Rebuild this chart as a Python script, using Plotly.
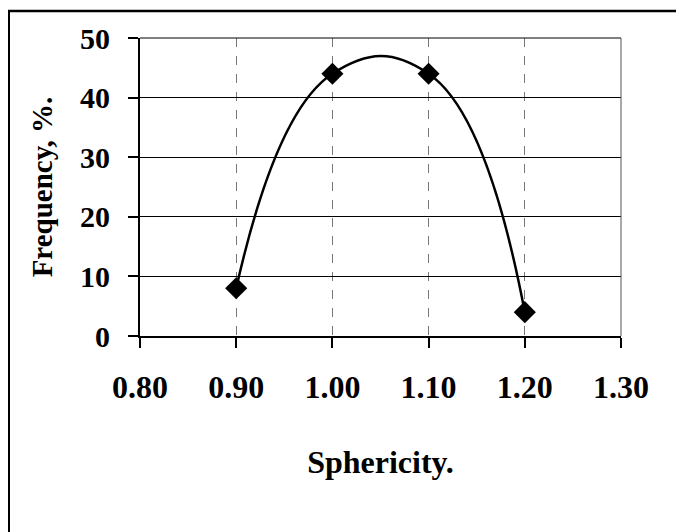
import plotly.graph_objects as go

sphericity = [0.90, 1.00, 1.10, 1.20]
frequency = [8, 44, 44, 4]
x_ticks = [0.80, 0.90, 1.00, 1.10, 1.20, 1.30]
x_tick_labels = ["0.80", "0.90", "1.00", "1.10", "1.20", "1.30"]
y_ticks = [0, 10, 20, 30, 40, 50]

# the page body adds an 8px offset, so the figure is sized to fit the window
W, H = 676, 524
L, T = 132, 30
pw, ph = 481, 298
R, B = W - L - pw, H - T - ph

def px(x):
    return (x - L) / pw

def py(y):
    return (H - B - y) / ph

font = "Liberation Serif"

fig = go.Figure()
fig.add_trace(go.Scatter(
    x=sphericity, y=frequency, mode="lines+markers",
    line=dict(color="black", width=2.5, shape="spline", smoothing=1.3),
    marker=dict(symbol="diamond", size=17, color="black"),
    showlegend=False, cliponaxis=False,
))

fig.update_layout(
    width=W, height=H,
    margin=dict(l=L, r=R, t=T, b=B, autoexpand=False),
    paper_bgcolor="white", plot_bgcolor="white",
    font=dict(family=font, color="black"),
    xaxis=dict(
        range=[0.80, 1.30], tickvals=x_ticks, ticktext=x_tick_labels,
        showgrid=True, gridcolor="#777777", gridwidth=1, griddash="dash",
        showline=True, linecolor="black", linewidth=2,
        ticks="outside", ticklen=10, tickwidth=2, tickcolor="black",
        tickfont=dict(family=font, size=32, color="black", weight="bold"),
        ticklabelstandoff=12,
        title=dict(text="<b>Sphericity.</b>", font=dict(family=font, size=32, color="black"), standoff=46),
        zeroline=False, automargin=False,
    ),
    yaxis=dict(
        range=[0, 50], tickvals=y_ticks,
        showgrid=True, gridcolor="black", gridwidth=1,
        showline=True, linecolor="black", linewidth=2,
        ticks="outside", ticklen=10, tickwidth=2, tickcolor="black",
        tickfont=dict(family=font, size=30, color="black", weight="bold"),
        ticklabelstandoff=12,
        title=dict(text="<b>Frequency, %.</b>", font=dict(family=font, size=29, color="black"), standoff=19),
        zeroline=False, automargin=False,
    ),
    shapes=[
        dict(type="line", xref="paper", yref="paper", x0=px(1), x1=px(1), y0=py(3), y1=py(524), line=dict(color="black", width=2)),
        dict(type="line", xref="paper", yref="paper", x0=px(0), x1=px(676), y0=py(3), y1=py(3), line=dict(color="black", width=2.5)),
        dict(type="line", xref="paper", yref="paper", x0=px(673), x1=px(673), y0=py(3), y1=py(524), line=dict(color="black", width=1.5)),
        dict(type="line", xref="paper", yref="paper", x0=0, x1=1, y0=1, y1=1, line=dict(color="black", width=1)),
        dict(type="line", xref="paper", yref="paper", x0=1, x1=1, y0=0, y1=1, line=dict(color="#555555", width=1)),
    ],
)

fig.write_html("out.html")
